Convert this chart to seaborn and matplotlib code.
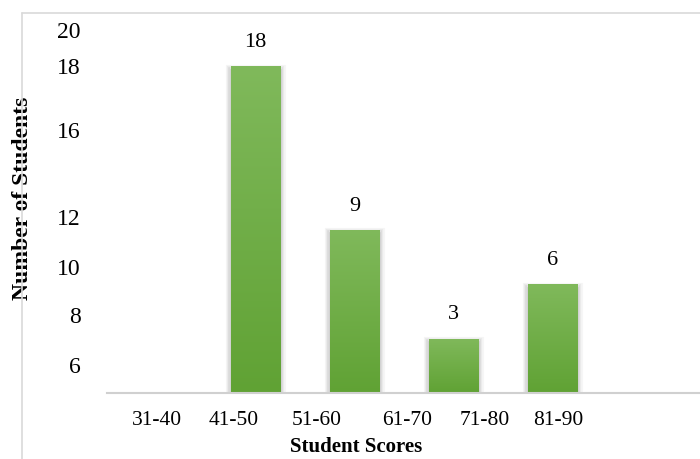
import numpy as np
import pandas as pd
import matplotlib
matplotlib.use("Agg")
import matplotlib.pyplot as plt
import matplotlib.patheffects as pe
from matplotlib.lines import Line2D
import seaborn as sns

# Data
score_ranges = ["31-40", "41-50", "51-60", "61-70", "71-80", "81-90"]
student_counts = [0, 18, 9, 3, 6, 0]

# Axis tick text
y_tick_labels = ["20", "18", "16", "12", "10", "8", "6"]

# Layout (tick label placement along each axis)
y_tick_positions = [19.98, 18.0, 14.47, 9.69, 6.93, 4.29, 1.54]
x_tick_positions = [0.0, 0.78, 1.62, 2.53, 3.32, 4.06]

sns.set_theme(style="white")
plt.rcParams["font.family"] = ["Liberation Serif", "DejaVu Serif"]
plt.rcParams["text.color"] = "black"
plt.rcParams["axes.labelcolor"] = "black"

df = pd.DataFrame({"range": score_ranges, "count": student_counts})

fig = plt.figure(figsize=(7.0, 4.59), dpi=100)
ax = fig.add_axes([107 / 700, 66 / 459, 594 / 700, 363 / 459])

sns.barplot(data=df, x="range", y="count", order=score_ranges,
            color="#70ad47", width=0.505, saturation=1, ax=ax, zorder=2)

ax.set_xlim(-0.5, 5.5)
ax.set_ylim(0, 20)

# Vertical gradient fill and a soft drop shadow on each bar
grad = np.linspace(0, 1, 256).reshape(-1, 1)
cmap = matplotlib.colors.LinearSegmentedColormap.from_list(
    "bar_grad", ["#60a234", "#80b95b"])
shadow = [pe.Stroke(offset=(0, -2.5), linewidth=lw, foreground="#505050", alpha=a)
          for lw, a in ((8, 0.05), (6, 0.07), (4, 0.10), (2, 0.14))]
for patch in ax.patches:
    h = patch.get_height()
    if h <= 0:
        continue
    x0 = patch.get_x()
    w = patch.get_width()
    patch.set_path_effects(shadow + [pe.Normal()])
    im = ax.imshow(grad, extent=[x0, x0 + w, 0, h], origin="lower", cmap=cmap,
                   aspect="auto", zorder=3)
    im.set_clip_path(patch)

# Value labels above bars
for i, v in enumerate(student_counts):
    if v > 0:
        ax.text(i, v + 1.3, str(v), ha="center", va="center", fontsize=16, color="black")

ax.set_xticks(x_tick_positions, score_ranges)
ax.set_yticks(y_tick_positions, y_tick_labels)
ax.tick_params(axis="both", length=0, colors="black")
ax.tick_params(axis="x", pad=13, labelsize=15.5)
ax.tick_params(axis="y", pad=19, labelsize=17)

for s in ["top", "right", "left"]:
    ax.spines[s].set_visible(False)
ax.spines["bottom"].set_color("#d0d0d0")
ax.spines["bottom"].set_linewidth(1.5)
ax.spines["bottom"].set_zorder(5)

ax.set_xlabel("Student Scores", fontsize=15, fontweight="bold", va="center", color="black")
ax.xaxis.set_label_coords(0.419, -0.149)
ax.set_ylabel("Number of Students", fontsize=17, fontweight="bold", va="center", ha="center",
              color="black")
ax.yaxis.set_label_coords(-0.143, 0.537)

# Outer chart frame
fx = 21.7 / 700
fy = 1 - 13 / 459
fig.add_artist(Line2D([fx, fx], [0, fy], color="#d9d9d9", lw=1.2, transform=fig.transFigure))
fig.add_artist(Line2D([fx, 1], [fy, fy], color="#d9d9d9", lw=1.2, transform=fig.transFigure))

fig.savefig("out.png", dpi=100, facecolor="white")
